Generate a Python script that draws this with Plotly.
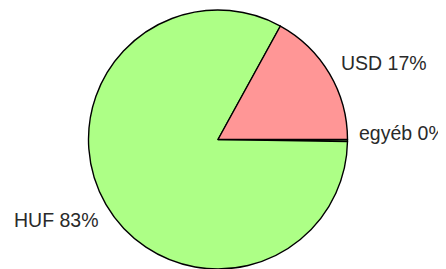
import plotly.graph_objects as go

labels = ["egyéb", "HUF", "USD"]
values = [0.25, 82.75, 17.0]
colors = ["#adff86", "#adff86", "#ff9696"]

# page body has an 8px margin: figure drawn in a 438x261 box offset by 8px
OFF = 8
W, H = 446 - OFF, 269 - OFF
total = sum(values)
pcts = [round(v / total * 100) for v in values]

cx, top = 218 - OFF, 10 - OFF
R = 130
fig = go.Figure(go.Pie(
    labels=labels,
    values=values,
    sort=False,
    direction="clockwise",
    rotation=90,
    marker=dict(colors=colors, line=dict(color="#000000", width=1.4)),
    textinfo="none",
    hoverinfo="label+percent",
    domain=dict(x=[(cx - R) / W, (cx + R) / W], y=[0, 1 - top / H]),
    showlegend=False,
))

# label placement (window pixels -> paper)
label_pos = {"USD": (339, 63), "egyéb": (357, 133), "HUF": (12, 220)}
for lab, p in zip(labels, pcts):
    x, y = label_pos[lab]
    fig.add_annotation(
        x=(x - OFF) / W, y=1 - (y - OFF) / H, xref="paper", yref="paper",
        text=f"{lab} {p}%", showarrow=False, xanchor="left", yanchor="middle",
        font=dict(family="Liberation Sans, Arial, sans-serif", size=19.5, color="#2a2a2a"),
    )

fig.update_layout(
    width=W, height=H,
    margin=dict(l=0, r=0, t=0, b=0),
    paper_bgcolor="white", plot_bgcolor="white",
)
fig.write_html("out.html")
